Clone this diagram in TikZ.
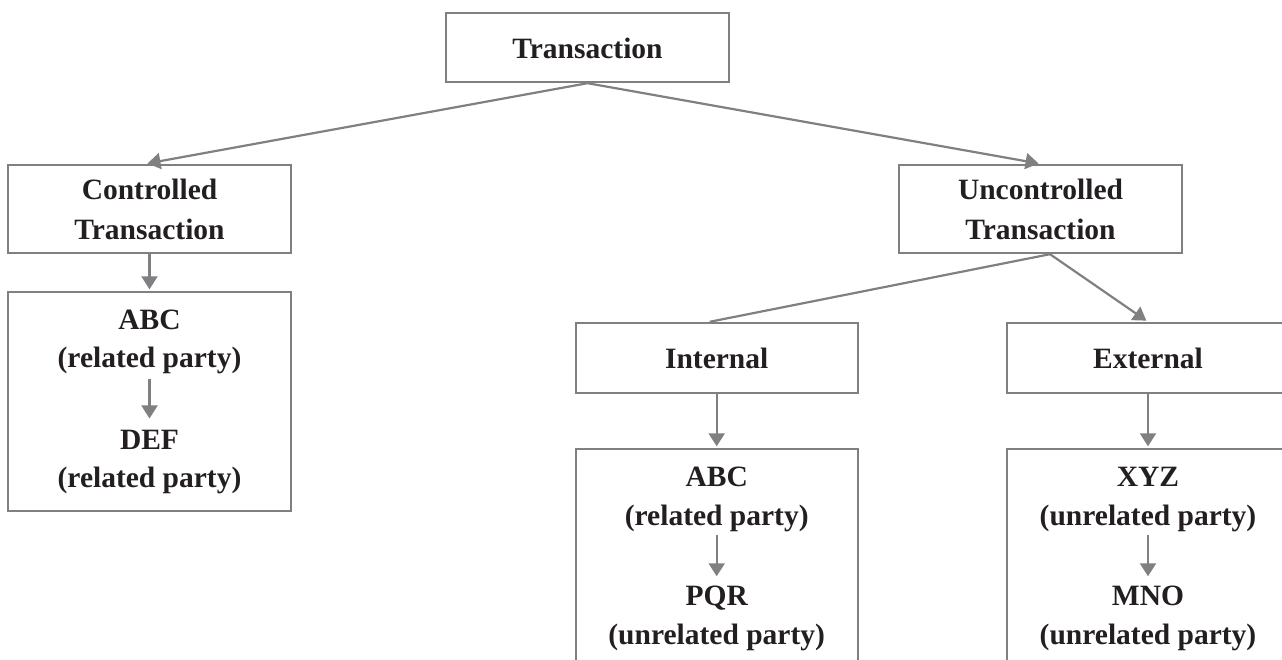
\documentclass[tikz,border=0pt]{standalone}
\usepackage{fontspec}
\setmainfont{Liberation Serif}
\usetikzlibrary{arrows.meta,calc}
\definecolor{linegray}{RGB}{128,128,131}
\definecolor{txtcol}{RGB}{35,31,32}
\begin{document}
\begin{tikzpicture}[x=1pt,y=-1pt,
  box/.style={draw=linegray, line width=2.4pt, inner sep=0pt, anchor=center},
  lbl/.style={font=\fontsize{29.5}{39}\selectfont\bfseries, text=txtcol, inner sep=0pt, anchor=base},
  conn/.style={draw=linegray, line width=2.2pt},
  arr/.style={conn, -{Triangle[width=16pt,length=13pt]}}]
\useasboundingbox (0,0) rectangle (1282,660);
\clip (0,0) rectangle (1282,660);
% boxes
\node[box, minimum width=283pt, minimum height=69pt] (trans) at (587.5,47.5) {};
\node[box, minimum width=283pt, minimum height=88pt] (ctrl) at (149.5,209) {};
\node[box, minimum width=283pt, minimum height=88pt] (unc) at (1040.5,209) {};
\node[box, minimum width=283pt, minimum height=219pt] (cbox) at (149.5,401.5) {};
\node[box, minimum width=282pt, minimum height=70pt] (int) at (716.7,358) {};
\node[box, minimum width=282pt, minimum height=70pt] (ext) at (1148,358) {};
\node[box, minimum width=282pt, minimum height=260pt] (ibox) at (716.7,579) {};
\node[box, minimum width=282pt, minimum height=260pt] (ebox) at (1148,579) {};
% texts
\node[lbl] (transT) at (587.5,59) {Transaction};
\node[lbl] (ctrlA) at (149.5,200) {Controlled};
\node[lbl] (ctrlB) at (149.5,240) {Transaction};
\node[lbl] (uncA) at (1040.5,200) {Uncontrolled};
\node[lbl] (uncB) at (1040.5,240) {Transaction};
\node[lbl] (intT) at (716.7,368) {Internal};
\node[lbl] (extT) at (1148,368) {External};
\node[lbl] (c1) at (149.5,329) {ABC};
\node[lbl] (c2) at (149.5,367) {(related party)};
\node[lbl] (c3) at (149.5,449) {DEF};
\node[lbl] (c4) at (149.5,487) {(related party)};
\node[lbl] (i1) at (716.7,486) {ABC};
\node[lbl] (i2) at (716.7,525) {(related party)};
\node[lbl] (i3) at (716.7,605) {PQR};
\node[lbl] (i4) at (716.7,644) {(unrelated party)};
\node[lbl] (e1) at (1148,486) {XYZ};
\node[lbl] (e2) at (1148,525) {(unrelated party)};
\node[lbl] (e3) at (1148,605) {MNO};
\node[lbl] (e4) at (1148,644) {(unrelated party)};
% connectors
\coordinate (uncS) at ([xshift=9.5pt]unc.south);
\draw[arr, shorten >=2pt] (trans.south) -- ([xshift=-4pt]ctrl.north);
\draw[arr, shorten >=2pt] (trans.south) -- (unc.north);
\draw[arr, shorten >=1.5pt] (ctrl.south) -- (cbox.north);
\draw[conn] (uncS) -- ([xshift=-7pt]int.north);
\draw[arr, shorten >=2pt] (uncS) -- (ext.north);
\draw[arr, shorten >=1.5pt] (int.south) -- (ibox.north);
\draw[arr, shorten >=1.5pt] (ext.south) -- (ebox.north);
\draw[arr, shorten <=5pt, shorten >=11pt] (c2.south) -- (c3.north);
\draw[arr, shorten <=3pt, shorten >=9pt] (i2.south) -- (i3.north);
\draw[arr, shorten <=3pt, shorten >=9pt] (e2.south) -- (e3.north);
\end{tikzpicture}
\end{document}
